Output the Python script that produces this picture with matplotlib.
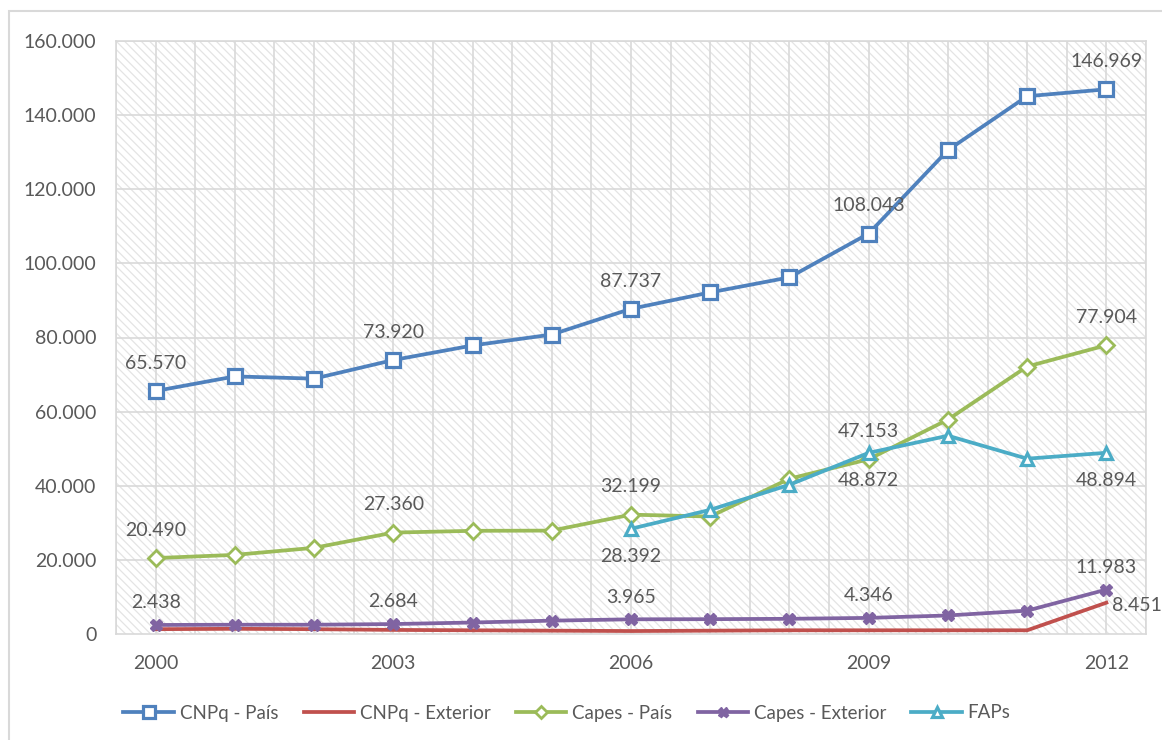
import matplotlib
matplotlib.use('Agg')
import matplotlib.pyplot as plt
from matplotlib.patches import Rectangle

anos = [2000, 2001, 2002, 2003, 2004, 2005, 2006, 2007, 2008, 2009, 2010, 2011, 2012]

cnpq_pais = [65570, 69500, 68900, 73920, 77850, 80800, 87737, 92170, 96230, 108043, 130550, 145100, 146969]
cnpq_exterior = [1300, 1400, 1300, 1100, 1000, 900, 800, 900, 1000, 1000, 1000, 1000, 8451]
capes_pais = [20490, 21350, 23250, 27360, 27840, 27900, 32199, 31700, 41900, 47153, 57850, 72170, 77904]
capes_exterior = [2438, 2500, 2500, 2684, 3100, 3600, 3965, 4000, 4100, 4346, 5000, 6300, 11983]
faps_anos = [2006, 2007, 2008, 2009, 2010, 2011, 2012]
faps = [28392, 33500, 40270, 48872, 53500, 47300, 48894]

anos_rotulo = [2000, 2003, 2006, 2009, 2012]

plt.rcParams['font.family'] = ['Lato', 'DejaVu Sans']
plt.rcParams['hatch.linewidth'] = 0.9
cinza = '#595959'
grade = '#d9d9d9'

fig = plt.figure(figsize=(11.62, 7.4), dpi=100)
ax = fig.add_axes([116/1162, 1 - 634/740, 1030/1162, 593/740])

# fundo hachurado
fundo = Rectangle((0, 0), 1, 1, transform=ax.transAxes, facecolor='white',
                  edgecolor='#e4e4e4', hatch='\\\\\\\\', linewidth=0, zorder=0)
ax.add_patch(fundo)

ax.set_xlim(1999.5, 2012.5)
ax.set_ylim(0, 160000)

for x in [1999.5 + 0.5 * i for i in range(27)]:
    ax.axvline(x, color=grade, lw=1.2, zorder=1)
for y in range(20000, 160001, 20000):
    ax.axhline(y, color=grade, lw=1.2, zorder=1)

ax.plot(anos, cnpq_pais, color='#4f81bd', lw=2.7, marker='s', ms=10,
        mfc='white', mec='#4f81bd', mew=2.3, label='CNPq - País', zorder=5)
ax.plot(anos, cnpq_exterior, color='#c0504d', lw=2.7, label='CNPq - Exterior', zorder=4)
ax.plot(anos, capes_pais, color='#9bbb59', lw=2.7, marker='D', ms=8,
        mfc='white', mec='#9bbb59', mew=2.0, label='Capes - País', zorder=4)
ax.plot(anos, capes_exterior, color='#8064a2', lw=2.7, marker='X', ms=9,
        mfc='#8064a2', mec='#8064a2', label='Capes - Exterior', zorder=5)
ax.plot(faps_anos, faps, color='#4bacc6', lw=2.7, marker='^', ms=9,
        mfc='white', mec='#4bacc6', mew=2.3, label='FAPs', zorder=5)

def fmt(v):
    return f'{v:,}'.replace(',', '.')

def rotular(xs, ys, dy, quais, dx=0, ha='center'):
    for x, y in zip(xs, ys):
        if x in quais:
            ax.annotate(fmt(y), (x, y), xytext=(dx, dy), textcoords='offset points',
                        ha=ha, va='center', fontsize=14, color=cinza, zorder=6)

rotular(anos, cnpq_pais, 20, anos_rotulo)
rotular(anos, capes_pais, 20, anos_rotulo)
rotular(anos, capes_exterior, 16, anos_rotulo)
rotular(faps_anos, faps, -20, [2006, 2009, 2012])
rotular(anos, cnpq_exterior, -2, [2012], dx=4, ha='left')

ax.set_xticks(anos_rotulo)
ax.set_yticks(range(0, 160001, 20000))
ax.set_yticklabels(['0'] + [fmt(v) for v in range(20000, 160001, 20000)])
ax.tick_params(axis='both', length=0, labelsize=14, labelcolor=cinza)
ax.tick_params(axis='y', pad=14)
ax.tick_params(axis='x', pad=15)
for s in ax.spines.values():
    s.set_color(grade)
    s.set_linewidth(1.2)

leg = fig.legend(loc='center', bbox_to_anchor=(567/1162, 1 - 713/740), ncol=5,
                 frameon=False, fontsize=13.5, labelcolor=cinza, handlelength=2.7,
                 handletextpad=0.3, columnspacing=1.35, markerscale=0.8)

fig.add_artist(Rectangle((9/1162, -0.1), 1.2, 1.1 - 11/740, transform=fig.transFigure,
                         fill=False, edgecolor=grade, lw=1.5))

fig.savefig('out.png', dpi=100)
